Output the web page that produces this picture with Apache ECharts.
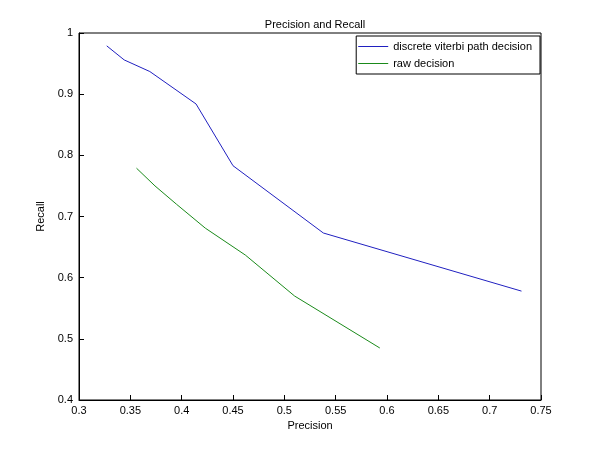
<!DOCTYPE html>
<html><head><meta charset="utf-8">
<script src="https://cdn.jsdelivr.net/npm/echarts@6/dist/echarts.min.js"></script>
<style>html,body{margin:0;background:#fff}#c{width:600px;height:450px}</style>
</head><body><div id="c"></div>
<script>
var viterbiX=[0.327,0.344,0.369,0.414,0.450,0.538,0.731];
var viterbiY=[0.979,0.956,0.937,0.884,0.783,0.673,0.578];
var rawX=[0.356,0.374,0.395,0.423,0.462,0.510,0.593];
var rawY=[0.779,0.750,0.720,0.681,0.637,0.570,0.485];
var xTicks=[0.3,0.35,0.4,0.45,0.5,0.55,0.6,0.65,0.7,0.75];
function pairs(a,b){return a.map(function(v,i){return [v,b[i]];});}
var f='Arial, Liberation Sans, sans-serif';
var ax={show:true,lineStyle:{color:'#000'}};
var chart=echarts.init(document.getElementById('c'));
chart.setOption({
 animation:false,
 title:{text:'Precision and Recall',left:310,top:14,textAlign:'center',textStyle:{fontSize:11,fontWeight:'normal',color:'#000',fontFamily:f}},
 grid:{left:79,right:59,top:33,bottom:50},
 legend:{right:60,top:36,orient:'vertical',itemWidth:30,itemHeight:1,itemGap:6,backgroundColor:'#fff',borderColor:'#000',borderWidth:1,padding:[5,8,5,2],textStyle:{fontSize:11,fontFamily:f,color:'#000'},icon:'rect',data:['discrete viterbi path decision','raw decision']},
 xAxis:{type:'value',min:0.3,max:0.75,interval:0.05,name:'Precision',nameLocation:'middle',nameGap:20,nameTextStyle:{fontSize:11,fontFamily:f,color:'#000'},
  axisLine:ax,axisTick:{show:true,inside:true,length:5,lineStyle:{color:'#000'}},splitLine:{show:false},
  axisLabel:{fontSize:11,fontFamily:f,color:'#000',margin:5,formatter:function(v){var t=xTicks.find(function(x){return Math.abs(x-v)<1e-9;});return t===undefined?'':String(t);}}},
 yAxis:{type:'value',min:0.4,max:1,interval:0.1,name:'Recall',nameLocation:'middle',nameGap:24,nameTextStyle:{fontSize:11,fontFamily:f,color:'#000'},
  axisLine:ax,axisTick:{show:true,inside:true,length:5,lineStyle:{color:'#000'}},splitLine:{show:false},
  axisLabel:{fontSize:11,fontFamily:f,color:'#000',margin:6,formatter:function(v){return String(Math.round(v*10)/10);}}},
 series:[
  {name:'discrete viterbi path decision',type:'line',data:pairs(viterbiX,viterbiY),showSymbol:false,lineStyle:{color:'#2020c0',width:1},itemStyle:{color:'#2020c0'}},
  {name:'raw decision',type:'line',data:pairs(rawX,rawY),showSymbol:false,lineStyle:{color:'#1a8a1a',width:1},itemStyle:{color:'#1a8a1a'}}
 ],
 graphic:[{type:'rect',shape:{x:79,y:33,width:462,height:367},style:{fill:'none',stroke:'#000',lineWidth:1},silent:true}]
});
</script></body></html>
